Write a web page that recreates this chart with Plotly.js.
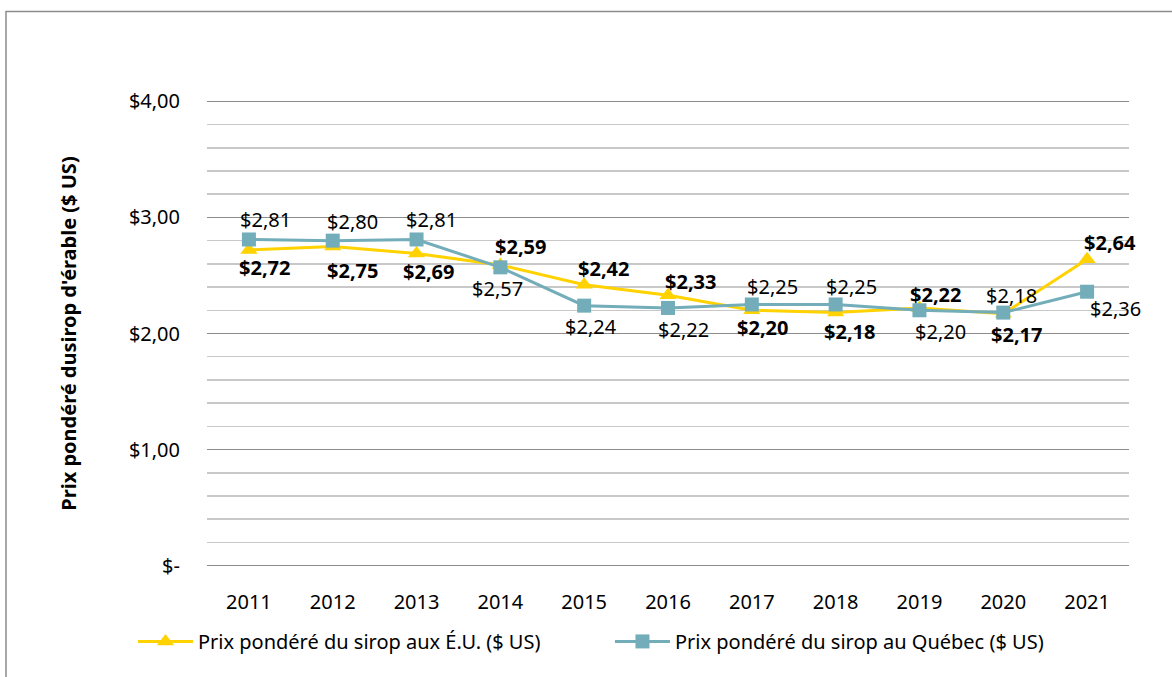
<!DOCTYPE html>
<html>
<head>
<meta charset="utf-8">
<script src="https://cdn.plot.ly/plotly-3.0.1.min.js"></script>
<style>html,body{margin:0;padding:0;background:#fff;}#chart{width:1172px;height:677px;}</style>
</head>
<body>
<div id="chart"></div>
<script>
// ---- data ----
const years = ['2011','2012','2013','2014','2015','2016','2017','2018','2019','2020','2021'];
const usPrice = [2.72, 2.75, 2.69, 2.59, 2.42, 2.33, 2.20, 2.18, 2.22, 2.17, 2.64];
const qcPrice = [2.81, 2.80, 2.81, 2.57, 2.24, 2.22, 2.25, 2.25, 2.20, 2.18, 2.36];
const yTickVals = [0, 1, 2, 3, 4];
const yTickText = ['$-', '$1,00', '$2,00', '$3,00', '$4,00'];
const usName = 'Prix pondéré du sirop aux É.U. ($ US)';
const qcName = 'Prix pondéré du sirop au Québec ($ US)';

// ---- label placement (pixel offsets from each marker; style only) ----
const usLabelDx = [16, 20, 12, 20, 19, 22, 11, 14, 16, 13, 23];
const usLabelDy = [18, 24, 18, -19, -16, -14, 17, 19, -13, 21, -17];
const qcLabelDx = [17, 20, 15, -3, 7, 15, 21, 16, 21, 8, 28];
const qcLabelDy = [-20, -19, -20, 21, 21, 22, -18, -18, 21, -17, 17];

const YELLOW = '#FFD200';
const TEAL = '#72ADB9';
const FONT = 'Noto Sans, Open Sans, sans-serif';

function fmt(v) { return '$' + v.toFixed(2).replace('.', ','); }

const annotations = [];
years.forEach((yr, i) => {
  annotations.push({
    x: i, y: usPrice[i], xref: 'x', yref: 'y', text: '<b>' + fmt(usPrice[i]) + '</b>',
    showarrow: false, xshift: usLabelDx[i], yshift: -usLabelDy[i],
    font: {family: FONT, size: 20, color: '#000'}
  });
  annotations.push({
    x: i, y: qcPrice[i], xref: 'x', yref: 'y', text: fmt(qcPrice[i]),
    showarrow: false, xshift: qcLabelDx[i], yshift: -qcLabelDy[i],
    font: {family: FONT, size: 20, color: '#000'}
  });
});

const traces = [
  {
    x: years, y: usPrice, name: usName, type: 'scatter', mode: 'lines+markers',
    line: {color: YELLOW, width: 3},
    marker: {symbol: 'triangle-up', size: 15, color: YELLOW},
    cliponaxis: false
  },
  {
    x: years, y: qcPrice, name: qcName, type: 'scatter', mode: 'lines+markers',
    line: {color: TEAL, width: 3},
    marker: {symbol: 'square', size: 14, color: TEAL},
    cliponaxis: false
  }
];

const layout = {
  width: 1172, height: 677,
  margin: {l: 207, r: 43, t: 98.7, b: 108.7},
  paper_bgcolor: '#fff', plot_bgcolor: '#fff',
  font: {family: FONT, size: 20, color: '#000'},
  showlegend: true,
  legend: {
    orientation: 'h', x: -0.0803, y: -0.115, xanchor: 'left', yanchor: 'top',
    font: {family: FONT, size: 20, color: '#000'},
    entrywidth: 407, entrywidthmode: 'pixels', itemwidth: 55,
    bgcolor: 'rgba(0,0,0,0)'
  },
  xaxis: {
    type: 'category', range: [-0.5, 10.5], showgrid: false, zeroline: false,
    showline: false, ticks: '', ticklabelstandoff: 20,
    tickfont: {family: FONT, size: 20, color: '#000'}, fixedrange: true
  },
  yaxis: {
    range: [-0.02, 4.02], tickvals: yTickVals, ticktext: yTickText,
    showgrid: true, gridcolor: '#8C8C8C', gridwidth: 1.5,
    zeroline: false, showline: false, ticks: '', ticklabelstandoff: 26,
    tickfont: {family: FONT, size: 20, color: '#000'},
    minor: {dtick: 0.2, showgrid: true, gridcolor: '#C8C8C8', gridwidth: 1.5},
    title: {text: "<b>Prix pondéré dusirop d'érable ($ US)</b>", font: {family: FONT, size: 20, color: '#000'}, standoff: 46},
    fixedrange: true
  },
  annotations: annotations,
  shapes: [{
    type: 'rect', xref: 'paper', yref: 'paper',
    x0: (6 - 207) / 922, x1: 1.1, y0: -0.4, y1: 1 + (98.7 - 11) / 469.6,
    line: {color: '#8C8C8C', width: 1.5}, fillcolor: 'rgba(0,0,0,0)', layer: 'below'
  }]
};

Plotly.newPlot('chart', traces, layout, {displayModeBar: false, staticPlot: true});
</script>
</body>
</html>
